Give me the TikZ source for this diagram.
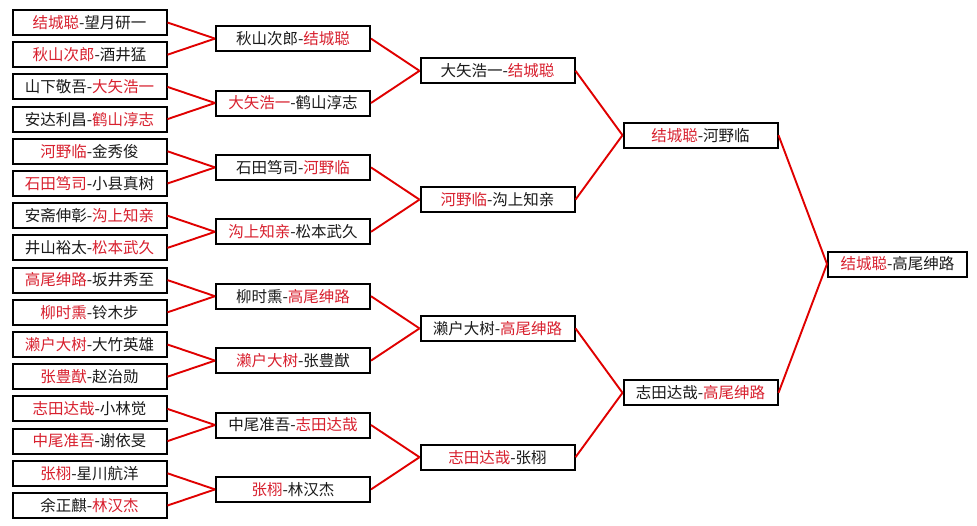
\documentclass[tikz,border=0pt]{standalone}
\usepackage{fontspec}
\newfontfamily\cjk{Noto Sans CJK SC}
\definecolor{winred}{HTML}{D8202E}
\definecolor{linered}{HTML}{E00000}
\definecolor{txt}{HTML}{1A1A1A}
\newcommand{\R}[1]{\textcolor{winred}{#1}}
\begin{document}
\begin{tikzpicture}[x=1pt,y=-1pt,
  match/.style={draw=black, line width=2pt, fill=white, minimum width=154pt, minimum height=25pt,
    inner sep=0pt, font=\cjk\fontsize{15.5}{15.5}\selectfont, text=txt},
  final/.style={match, minimum width=139pt},
  link/.style={draw=linered, line width=1.9pt}]
\useasboundingbox[fill=white] (0,0) rectangle (977,525);
% column 1
\node[match] (a1)  at (89.5,22.5)  {\R{结城聪}-望月研一};
\node[match] (a2)  at (89.5,54.7)  {\R{秋山次郎}-酒井猛};
\node[match] (a3)  at (89.5,86.9)  {山下敬吾-\R{大矢浩一}};
\node[match] (a4)  at (89.5,119.1) {安达利昌-\R{鹤山淳志}};
\node[match] (a5)  at (89.5,151.3) {\R{河野临}-金秀俊};
\node[match] (a6)  at (89.5,183.5) {\R{石田笃司}-小县真树};
\node[match] (a7)  at (89.5,215.7) {安斋伸彰-\R{沟上知亲}};
\node[match] (a8)  at (89.5,247.9) {井山裕太-\R{松本武久}};
\node[match] (a9)  at (89.5,280.1) {\R{高尾绅路}-坂井秀至};
\node[match] (a10) at (89.5,312.3) {\R{柳时熏}-铃木步};
\node[match] (a11) at (89.5,344.5) {\R{濑户大树}-大竹英雄};
\node[match] (a12) at (89.5,376.7) {\R{张豊猷}-赵治勋};
\node[match] (a13) at (89.5,408.9) {\R{志田达哉}-小林觉};
\node[match] (a14) at (89.5,441.1) {\R{中尾准吾}-谢依旻};
\node[match] (a15) at (89.5,473.3) {\R{张栩}-星川航洋};
\node[match] (a16) at (89.5,505.5) {余正麒-\R{林汉杰}};
% column 2
\node[match] (b1) at (293,38.6)  {秋山次郎-\R{结城聪}};
\node[match] (b2) at (293,103)   {\R{大矢浩一}-鹤山淳志};
\node[match] (b3) at (293,167.4) {石田笃司-\R{河野临}};
\node[match] (b4) at (293,231.8) {\R{沟上知亲}-松本武久};
\node[match] (b5) at (293,296.2) {柳时熏-\R{高尾绅路}};
\node[match] (b6) at (293,360.6) {\R{濑户大树}-张豊猷};
\node[match] (b7) at (293,425)   {中尾准吾-\R{志田达哉}};
\node[match] (b8) at (293,489.4) {\R{张栩}-林汉杰};
% column 3
\node[match] (c1) at (497.5,70.8)  {大矢浩一-\R{结城聪}};
\node[match] (c2) at (497.5,199.6) {\R{河野临}-沟上知亲};
\node[match] (c3) at (497.5,328.4) {濑户大树-\R{高尾绅路}};
\node[match] (c4) at (497.5,457.2) {\R{志田达哉}-张栩};
% column 4
\node[match] (d1) at (700.5,135.2) {\R{结城聪}-河野临};
\node[match] (d2) at (700.5,392.8) {志田达哉-\R{高尾绅路}};
% final
\node[final] (e1) at (897.5,264) {\R{结城聪}-高尾绅路};
% connectors
\foreach \i/\p in {1/1,2/1,3/2,4/2,5/3,6/3,7/4,8/4,9/5,10/5,11/6,12/6,13/7,14/7,15/8,16/8}
  \draw[link] (a\i.east) -- (b\p.west);
\foreach \i/\p in {1/1,2/1,3/2,4/2,5/3,6/3,7/4,8/4}
  \draw[link] (b\i.east) -- (c\p.west);
\foreach \i/\p in {1/1,2/1,3/2,4/2}
  \draw[link] (c\i.east) -- (d\p.west);
\foreach \i in {1,2}
  \draw[link] (d\i.east) -- (e1.west);
\end{tikzpicture}
\end{document}
